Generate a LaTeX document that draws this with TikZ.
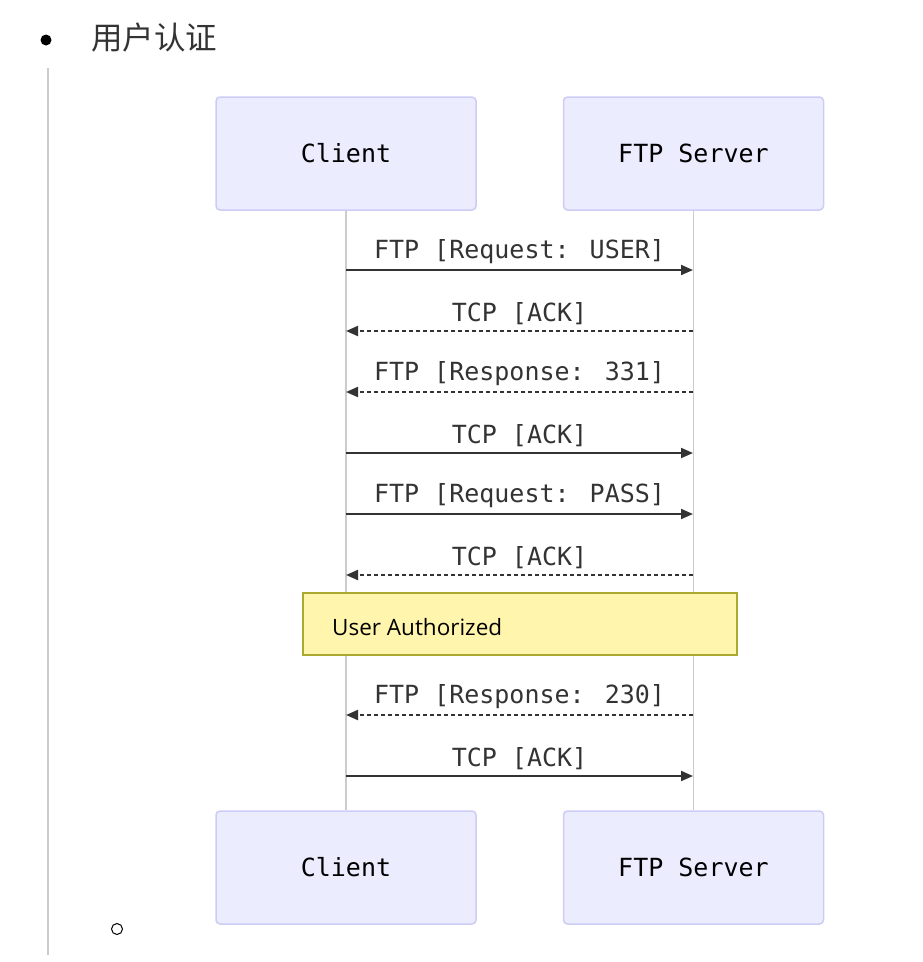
\documentclass[tikz,border=0pt]{standalone}
\usepackage{fontspec}
\newfontfamily\cjk{Noto Sans CJK SC}
\newfontfamily\monof{DejaVu Sans Mono}
\newfontfamily\notef{Open Sans}
\usetikzlibrary{arrows.meta}
\definecolor{actfill}{HTML}{ECECFF}
\definecolor{actdraw}{HTML}{CCCCF5}
\definecolor{notefill}{HTML}{FFF5AD}
\definecolor{notedraw}{HTML}{AAAA33}
\definecolor{txt}{HTML}{333333}
\definecolor{life}{HTML}{CCCCCC}
\tikzset{
  actor/.style={draw=actdraw, fill=actfill, line width=1.5pt, rounded corners=4pt,
    minimum width=260pt, minimum height=113pt, inner sep=0pt,
    font=\monof\fontsize{25}{30}\selectfont, text=black},
  lifeline/.style={draw=life, line width=1.5pt},
  msg/.style={draw=txt, line width=2pt, -{Triangle[length=12pt,width=10pt]}},
  reply/.style={msg, dash pattern=on 4pt off 3pt},
  mlabel/.style={font=\monof\fontsize{25}{30}\selectfont, text=txt, inner sep=0pt, above=5pt},
  notebox/.style={draw=notedraw, fill=notefill, line width=1.2pt,
    minimum width=434pt, minimum height=62pt, inner sep=0pt},
}
\begin{document}
\begin{tikzpicture}[x=1pt,y=-1pt]
\useasboundingbox (0,0) rectangle (922,962);
% bullet and heading
\fill[black] (46,40) circle (5.5);
\node[anchor=west, inner sep=0pt, font=\cjk\fontsize{31.5}{36}\selectfont, text=txt] (title) at (91,38) {用户认证};
\draw[life, line width=1.2pt] (48,68) -- (48,955);
% actors
\node[actor] (ct) at (346,153.5) {Client};
\node[actor] (st) at (693.5,153.5) {FTP Server};
\node[actor] (cb) at (346,867.5) {Client};
\node[actor] (sb) at (693.5,867.5) {FTP Server};
\draw[lifeline] (ct.south) -- (cb.north);
\draw[lifeline] (st.south) -- (sb.north);
% message coordinates
\foreach \i/\y in {1/270,2/331,3/392,4/453,5/514,6/575,7/715,8/776}{
  \coordinate (c\i) at (346,\y);
  \coordinate (s\i) at (693,\y);
}
% note
\node[notebox] (note) at (520,624) {};
\node[anchor=west, inner sep=0pt, font=\notef\fontsize{22.5}{27}\selectfont, text=black] (notet) at (332,627) {User Authorized};
% messages
\draw[msg] (c1) -- node[mlabel] {FTP [Request: USER]} (s1);
\draw[reply] (s2) -- node[mlabel] {TCP [ACK]} (c2);
\draw[reply] (s3) -- node[mlabel] {FTP [Response: 331]} (c3);
\draw[msg] (c4) -- node[mlabel] {TCP [ACK]} (s4);
\draw[msg] (c5) -- node[mlabel] {FTP [Request: PASS]} (s5);
\draw[reply] (s6) -- node[mlabel] {TCP [ACK]} (c6);
\draw[reply] (s7) -- node[mlabel] {FTP [Response: 230]} (c7);
\draw[msg] (c8) -- node[mlabel] {TCP [ACK]} (s8);
% sub-bullet
\draw[black, line width=1pt] (117,929) circle (5.5);
\end{tikzpicture}
\end{document}
